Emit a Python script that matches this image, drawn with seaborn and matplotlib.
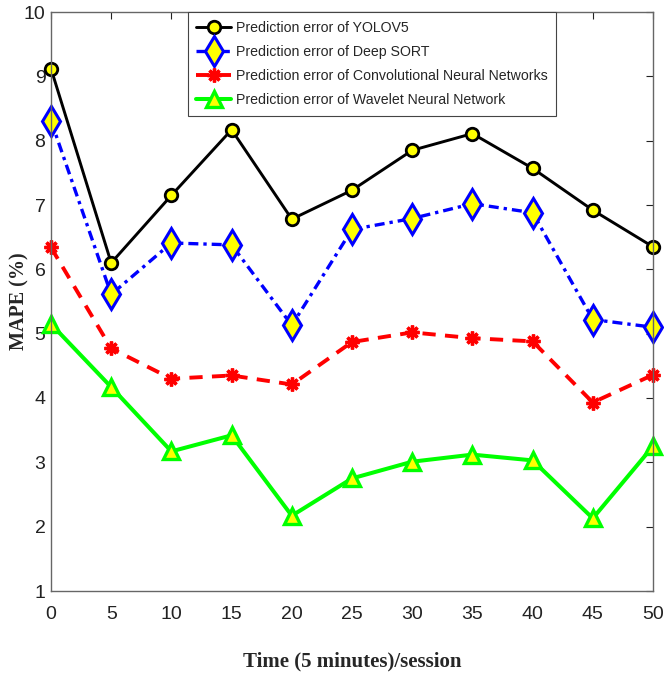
import matplotlib
matplotlib.use("Agg")
import matplotlib.pyplot as plt
import seaborn as sns
import pandas as pd

time = [0, 5, 10, 15, 20, 25, 30, 35, 40, 45, 50]
yolov5 = [9.12, 6.10, 7.15, 8.17, 6.78, 7.23, 7.85, 8.11, 7.57, 6.92, 6.35]
deep_sort = [8.31, 5.61, 6.41, 6.38, 5.13, 6.62, 6.79, 7.02, 6.88, 5.22, 5.10]
cnn = [6.34, 4.77, 4.30, 4.35, 4.21, 4.87, 5.02, 4.93, 4.88, 3.93, 4.36]
wnn = [5.15, 4.17, 3.17, 3.42, 2.17, 2.75, 3.01, 3.12, 3.03, 2.13, 3.25]

labels = ["Prediction error of YOLOV5",
          "Prediction error of Deep SORT",
          "Prediction error of Convolutional Neural Networks",
          "Prediction error of Wavelet Neural Network"]
x_ticks = [0, 5, 10, 15, 20, 25, 30, 35, 40, 45, 50]
y_ticks = [1, 2, 3, 4, 5, 6, 7, 8, 9, 10]

sns.set_theme(style="white")
plt.rcParams['font.family'] = ['Liberation Sans', 'DejaVu Sans']

fig = plt.figure(figsize=(6.64, 6.77), dpi=100)
ax = fig.add_axes([51/664, 1 - 591/677, 602/664, 579/677])

styles = [
    dict(color="black", linestyle="-", marker="o", markersize=9,
         markerfacecolor="yellow", markeredgecolor="black", markeredgewidth=2.0,
         linewidth=2.1),
    dict(color="blue", linestyle=(0, (3.0, 1.5, 1.0, 1.5)), marker="d", markersize=15.5,
         markerfacecolor="yellow", markeredgecolor="blue", markeredgewidth=2.2,
         linewidth=2.4),
    dict(color="red", linestyle=(0, (3.4, 2.4)), marker=(8, 2, 0), markersize=10,
         markerfacecolor="red", markeredgecolor="red", markeredgewidth=2.4,
         linewidth=2.8),
    dict(color="#00ff00", linestyle="-", marker="^", markersize=11.5,
         markerfacecolor="yellow", markeredgecolor="#00ff00", markeredgewidth=2.4,
         linewidth=2.9),
]
series = [yolov5, deep_sort, cnn, wnn]
for vals, lab, st in zip(series, labels, styles):
    df = pd.DataFrame({"t": time, "v": vals})
    sns.lineplot(data=df, x="t", y="v", ax=ax, label=lab, clip_on=False, **st)

ax.set_xlim(0, 50)
ax.set_ylim(1, 10)
ax.set_xticks(x_ticks)
ax.set_yticks(y_ticks)
ax.set_xticklabels([str(t) for t in x_ticks])
ax.set_yticklabels([str(t) for t in y_ticks])
ax.tick_params(direction="in", length=5, width=0.8, colors="#222222",
               labelsize=14, top=True, right=True,
               labeltop=False, labelright=False)
ax.tick_params(axis="x", pad=11)
ax.tick_params(axis="y", pad=4)
for s in ax.spines.values():
    s.set_color("#666666")
    s.set_linewidth(1.0)

ax.set_xlabel("Time (5 minutes)/session", fontfamily="Liberation Serif",
              fontweight="bold", fontsize=15, labelpad=20)
ax.set_ylabel("MAPE (%)", fontfamily="Liberation Serif",
              fontweight="bold", fontsize=14.5)
ax.yaxis.set_label_coords((29 - 51) / 602, 0.5)

leg = ax.legend(loc="upper left", bbox_to_anchor=((188 - 51) / 602, 1.0),
                fontsize=10.2, frameon=True, fancybox=False, framealpha=1,
                edgecolor="#444444", handlelength=2.45, labelspacing=0.72,
                borderpad=0.6, handletextpad=0.35, borderaxespad=0.0,
                numpoints=1)
leg.get_frame().set_linewidth(0.8)

fig.savefig("out.png", dpi=100)
